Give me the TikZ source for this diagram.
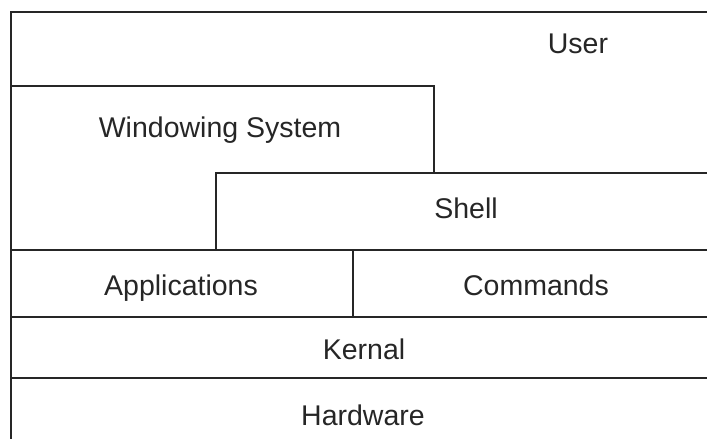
\documentclass[tikz,border=0pt]{standalone}
\usepackage{fontspec}
\setmainfont{Liberation Sans}
\begin{document}
\begin{tikzpicture}[
        x=1pt,
        y=-1pt,
        line width=1.3pt,
        color=black!85,
        layer/.style={anchor=base, inner sep=0pt, font=\fontsize{28.5}{34}\selectfont}
    ]
    \useasboundingbox (0,0) rectangle (707,439);

    % Outline of the layers
    \draw (707,12) -| (11,439);
    \draw (11,86) -| (434,173);
    \draw (216,250) |- (707,173);
    \draw (11,250) -- (707,250);
    \draw (353,250) -- (353,317);
    \draw (11,317) -- (707,317);
    \draw (11,378) -- (707,378);

    % Layer names
    \node[layer] (user) at (578,53) {User};
    \node[layer] (winsys) at (220,137) {Windowing System};
    \node[layer] (shell) at (466,218) {Shell};
    \node[layer] (apps) at (181,295) {Applications};
    \node[layer] (cmds) at (536,295) {Commands};
    \node[layer] (kernal) at (364,359) {Kernal};
    \node[layer] (hw) at (363,425) {Hardware};

\end{tikzpicture}
\end{document}
